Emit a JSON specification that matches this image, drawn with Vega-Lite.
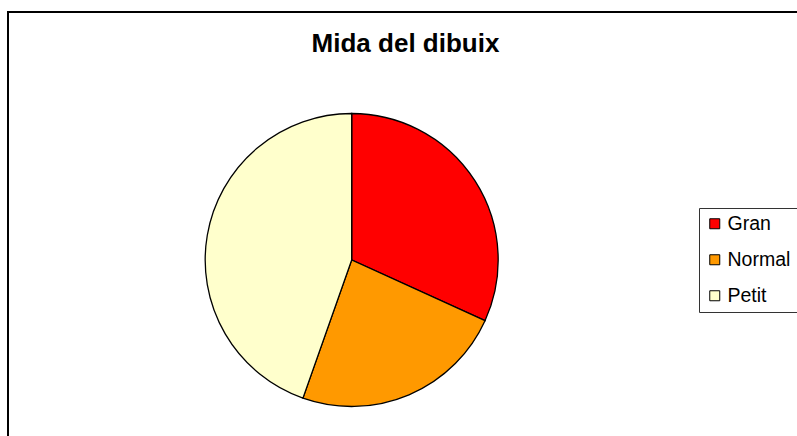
{
  "$schema": "https://vega.github.io/schema/vega-lite/v6.json",
  "autosize": "none",
  "padding": {"left": 8, "top": 12, "right": -4, "bottom": -4},
  "width": 793,
  "height": 428,
  "background": "white",
  "config": {
    "view": {"stroke": "black", "strokeWidth": 2},
    "font": "Liberation Sans"
  },
  "title": {
    "text": "Mida del dibuix",
    "font": "Liberation Sans",
    "fontSize": 26,
    "fontWeight": "bold",
    "color": "black",
    "anchor": "middle",
    "baseline": "alphabetic",
    "offset": 0,
    "dy": 66,
    "dx": 1
  },
  "data": {
    "values": [
      {"size": "Gran", "value": 31.8},
      {"size": "Normal", "value": 23.6},
      {"size": "Petit", "value": 44.6}
    ]
  },
  "mark": {"type": "arc", "outerRadius": 146.5, "stroke": "black", "strokeWidth": 1.3},
  "encoding": {
    "theta": {"field": "value", "type": "quantitative", "stack": true},
    "order": {"field": "size", "type": "nominal"},
    "color": {
      "field": "size",
      "type": "nominal",
      "scale": {"domain": ["Gran", "Normal", "Petit"], "range": ["#FF0000", "#FF9900", "#FFFFCC"]},
      "legend": {
        "orient": "none",
        "legendX": 691,
        "legendY": 196,
        "title": null,
        "strokeColor": "#333333",
        "fillColor": "white",
        "padding": 6,
        "symbolType": "square",
        "symbolSize": 100,
        "symbolStrokeColor": "black",
        "symbolStrokeWidth": 1,
        "symbolOpacity": 1,
        "labelFontSize": 19.5,
        "labelFont": "Liberation Sans",
        "labelColor": "black",
        "labelOffset": 3,
        "rowPadding": 15,
        "offset": 0
      }
    },
    "x": {"datum": 0.4334, "type": "quantitative", "scale": {"domain": [0, 1], "nice": false, "zero": false}, "axis": null},
    "y": {"datum": 0.4206, "type": "quantitative", "scale": {"domain": [0, 1], "nice": false, "zero": false}, "axis": null}
  }
}
